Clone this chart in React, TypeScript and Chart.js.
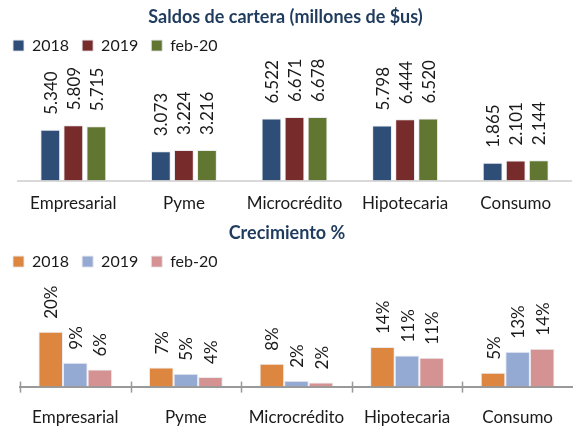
import React, { useEffect, useRef } from "react";
import { Chart, registerables } from "chart.js";

Chart.register(...registerables);

const categories = ["Empresarial", "Pyme", "Microcrédito", "Hipotecaria", "Consumo"];
const seriesNames = ["2018", "2019", "feb-20"];

const saldos2018 = [5340, 3073, 6522, 5798, 1865];
const saldos2019 = [5809, 3224, 6671, 6444, 2101];
const saldosFeb20 = [5715, 3216, 6678, 6520, 2144];

const crec2018 = [19.9, 6.9, 8.3, 14.4, 5.0];
const crec2019 = [8.7, 4.7, 2.1, 11.3, 12.7];
const crecFeb20 = [6.2, 3.5, 1.5, 10.5, 13.8];

const topColors = ["#2E4E78", "#772B2B", "#607631"];
const bottomColors = ["#DD8640", "#94AAD3", "#D49292"];

const FONT = "Lato, 'Open Sans', sans-serif";

const fmtThousands = (v: number) => {
  const s = Math.round(v).toString();
  return s.replace(/\B(?=(\d{3})+(?!\d))/g, ".");
};
const fmtPct = (v: number) => Math.round(v) + "%";

function makeLabelPlugin(fmt: (v: number) => string, gap: number) {
  return {
    id: "rotLabels",
    afterDatasetsDraw(chart: any) {
      const ctx = chart.ctx;
      ctx.save();
      ctx.font = `17px ${FONT}`;
      ctx.fillStyle = "#1a1a1a";
      ctx.textAlign = "left";
      ctx.textBaseline = "middle";
      chart.data.datasets.forEach((ds: any, di: number) => {
        const meta = chart.getDatasetMeta(di);
        meta.data.forEach((bar: any, i: number) => {
          ctx.save();
          ctx.translate(bar.x, bar.y - gap);
          ctx.rotate(-Math.PI / 2);
          ctx.fillText(fmt(ds.data[i]), 0, 1);
          ctx.restore();
        });
      });
      ctx.restore();
    },
  };
}

const tickMarksPlugin = {
  id: "tickMarks",
  afterDatasetsDraw(chart: any) {
    const ctx = chart.ctx;
    const xs = chart.scales.x;
    const y = chart.chartArea.bottom;
    const n = chart.data.labels.length;
    const step = xs.getPixelForValue(1) - xs.getPixelForValue(0);
    ctx.save();
    ctx.strokeStyle = "#999999";
    ctx.lineWidth = 1.5;
    for (let i = 0; i < n; i++) {
      const x = Math.round(xs.getPixelForValue(i) - step / 2) + 0.5;
      ctx.beginPath();
      ctx.moveTo(x, y - 5);
      ctx.lineTo(x, y + 6);
      ctx.stroke();
    }
    ctx.restore();
  },
};

function BarChart(props: {
  title: string;
  data: number[][];
  colors: string[];
  fmt: (v: number) => string;
  yMax: number;
  height: number;
  axisColor: string;
  tickPad: number;
  withTicks: boolean;
  barPct: number;
  catPct: number;
  leftWidth: number;
  rightPad: number;
  labelGap: number;
}) {
  const ref = useRef<HTMLCanvasElement>(null);
  useEffect(() => {
    if (!ref.current) return;
    const plugins: any[] = [makeLabelPlugin(props.fmt, props.labelGap)];
    if (props.withTicks) plugins.push(tickMarksPlugin);
    const chart = new Chart(ref.current, {
      type: "bar",
      data: {
        labels: categories,
        datasets: props.data.map((d, i) => ({
          label: seriesNames[i],
          data: d,
          backgroundColor: props.colors[i],
          borderColor: "rgba(232,232,238,0.9)",
          borderWidth: 1,
          barPercentage: props.barPct,
          categoryPercentage: props.catPct,
        })),
      },
      options: {
        animation: false,
        responsive: false,
        layout: { padding: { left: 0, right: props.rightPad, top: 0, bottom: 2 - props.tickPad } },
        plugins: {
          title: {
            display: true,
            text: props.title,
            color: "#1F3B5E",
            font: { family: FONT, size: 18, weight: "bold" },
            padding: { top: 6, bottom: -3 },
          },
          legend: {
            display: true,
            align: "start",
            labels: {
              boxWidth: 11,
              boxHeight: 11,
              padding: 13,
              color: "#1a1a1a",
              font: { family: FONT, size: 16 },
            },
          },
          tooltip: { enabled: false },
        },
        scales: {
          x: {
            grid: { display: false, drawTicks: false },
            border: { display: true, color: props.axisColor, width: 2 },
            ticks: {
              color: "#1a1a1a",
              font: { family: FONT, size: 17 },
              padding: props.tickPad,
              maxRotation: 0,
            },
          },
          y: {
            display: true,
            min: 0,
            max: props.yMax,
            grid: { display: false, drawTicks: false },
            border: { display: false },
            ticks: { display: false },
            afterFit: (scale: any) => {
              scale.width = props.leftWidth;
            },
          },
        },
      },
      plugins,
    });
    return () => chart.destroy();
  }, []);
  return <canvas ref={ref} width={574} height={props.height} style={{ display: "block" }} />;
}

export default function App() {
  return (
    <div style={{ position: "absolute", left: 0, top: 0, width: 574, height: 430, background: "#fff", overflow: "hidden" }}>
      <BarChart
        title="Saldos de cartera (millones de $us)"
        data={[saldos2018, saldos2019, saldosFeb20]}
        colors={topColors}
        fmt={fmtThousands}
        yMax={12290}
        height={216}
        axisColor="#D9D9D9"
        tickPad={13}
        withTicks={false}
        barPct={0.86}
        catPct={0.625}
        leftWidth={18}
        rightPad={3}
        labelGap={15}
      />
      <BarChart
        title="Crecimiento %"
        data={[crec2018, crec2019, crecFeb20]}
        colors={bottomColors}
        fmt={fmtPct}
        yMax={38.9}
        height={214}
        axisColor="#999999"
        tickPad={21}
        withTicks={true}
        barPct={1}
        catPct={0.667}
        leftWidth={20}
        rightPad={0}
        labelGap={13}
      />
    </div>
  );
}
